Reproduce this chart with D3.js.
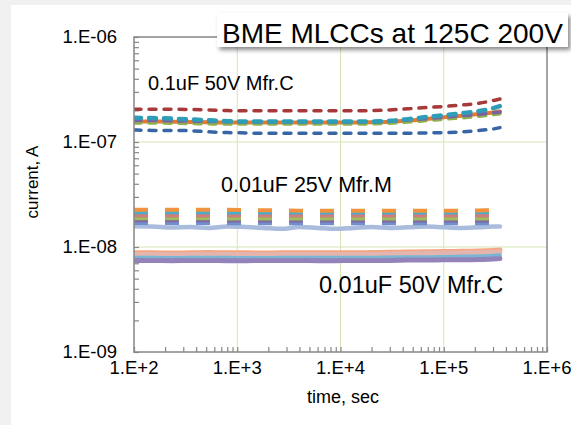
<!DOCTYPE html>
<html>
<head>
<meta charset="utf-8">
<script src="https://cdn.jsdelivr.net/npm/d3@7"></script>
<style>
  body { margin: 0; background: #f0f0f0; }
  svg { display: block; font-family: "Liberation Sans", Arial, sans-serif; }
</style>
</head>
<body>
<svg id="chart" width="571" height="425"></svg>
<script>
// ---- data -------------------------------------------------------------
const times = [100, 150, 230, 350, 530, 800, 1200, 1800, 2700, 4000, 6000, 9000,
               13500, 20000, 30000, 45000, 68000, 100000, 150000, 220000, 300000, 350000];

// 0.1uF 50V Mfr.C  (current, A ×1e-7)
const c01Red    = [2.05,2.05,2.05,2.04,2.02,1.99,1.98,1.98,1.98,1.98,1.98,1.98,1.98,1.99,2.02,2.07,2.13,2.18,2.25,2.34,2.48,2.57];
const c01Teal   = [1.70,1.69,1.67,1.64,1.61,1.58,1.57,1.57,1.57,1.57,1.57,1.57,1.57,1.57,1.59,1.65,1.73,1.80,1.88,1.97,2.10,2.20];
const c01Orange = [1.57,1.57,1.56,1.55,1.54,1.53,1.53,1.53,1.53,1.53,1.53,1.53,1.53,1.54,1.56,1.60,1.66,1.72,1.78,1.85,1.91,1.95];
const c01Green  = [1.52,1.52,1.51,1.50,1.49,1.48,1.48,1.48,1.48,1.48,1.48,1.48,1.48,1.49,1.51,1.55,1.60,1.65,1.70,1.76,1.82,1.86];
const c01Purple = [1.60,1.60,1.59,1.58,1.57,1.56,1.55,1.55,1.55,1.55,1.55,1.55,1.55,1.56,1.58,1.62,1.67,1.72,1.78,1.84,1.90,1.93];
const c01Blue   = [1.30,1.29,1.29,1.28,1.25,1.23,1.22,1.21,1.21,1.21,1.21,1.21,1.21,1.21,1.21,1.21,1.22,1.23,1.25,1.29,1.33,1.37];

// 0.01uF 25V Mfr.M  (current, A ×1e-8)
const m25Light  = [1.58,1.57,1.53,1.55,1.52,1.57,1.55,1.52,1.49,1.55,1.52,1.49,1.52,1.55,1.52,1.54,1.57,1.54,1.52,1.54,1.57,1.57];
const m25Blue   = [1.69,1.69,1.69,1.69,1.69,1.68,1.68,1.68,1.68,1.68,1.68,1.68,1.68,1.68,1.68,1.68,1.68,1.68,1.68,1.68,1.69,1.69];
const m25Purple = [1.80,1.80,1.80,1.80,1.80,1.79,1.79,1.79,1.79,1.79,1.79,1.79,1.79,1.79,1.79,1.79,1.79,1.79,1.79,1.79,1.77,1.76];
const m25Green  = [1.88,1.88,1.88,1.88,1.88,1.87,1.87,1.87,1.87,1.87,1.87,1.87,1.87,1.87,1.87,1.87,1.87,1.87,1.87,1.87,1.86,1.85];
const m25Rose   = [2.00,2.00,2.00,2.00,2.00,1.99,1.99,1.99,1.99,1.99,1.99,1.99,1.99,1.99,1.99,1.99,1.99,1.99,1.99,1.99,1.98,1.97];
const m25Teal   = [2.14,2.14,2.14,2.14,2.14,2.13,2.13,2.13,2.13,2.13,2.13,2.13,2.13,2.13,2.13,2.13,2.13,2.13,2.13,2.14,2.14,2.12];
const m25Orange = [2.26,2.26,2.26,2.26,2.26,2.26,2.25,2.24,2.23,2.22,2.22,2.22,2.22,2.22,2.22,2.22,2.22,2.22,2.22,2.23,2.24,2.24];

// 0.01uF 50V Mfr.C  (current, A ×1e-9)
const c50Orange = [8.80,8.80,8.75,8.80,8.85,8.80,8.80,8.75,8.80,8.80,8.80,8.80,8.80,8.85,8.90,8.95,9.00,9.05,9.10,9.15,9.25,9.35];
const c50Pink   = [8.50,8.50,8.45,8.50,8.55,8.50,8.50,8.45,8.50,8.50,8.50,8.50,8.50,8.55,8.60,8.65,8.70,8.75,8.80,8.85,8.95,9.00];
const c50Teal   = [7.90,7.90,7.85,7.90,7.90,7.90,7.85,7.85,7.90,7.90,7.90,7.90,7.90,7.90,7.95,8.00,8.00,8.05,8.10,8.15,8.25,8.35];
const c50Purple = [7.45,7.45,7.40,7.45,7.45,7.40,7.40,7.45,7.45,7.45,7.40,7.40,7.45,7.45,7.45,7.50,7.50,7.55,7.55,7.60,7.70,7.75];

const xTickValues = [1e2, 1e3, 1e4, 1e5, 1e6];
const xTickLabels = ["1.E+2", "1.E+3", "1.E+4", "1.E+5", "1.E+6"];
const yTickValues = [1e-9, 1e-8, 1e-7, 1e-6];
const yTickLabels = ["1.E-09", "1.E-08", "1.E-07", "1.E-06"];

const titleText = "BME MLCCs at 125C 200V";
const groupLabels = ["0.1uF 50V Mfr.C", "0.01uF 25V Mfr.M", "0.01uF 50V Mfr.C"];

// ---- series styling (draw order) ---------------------------------------
const dashTop = "7 8", dashMid = "14 17";
const series = [
  { v: c01Orange, k: 1e-7, color: "#e07b32", w: 4,   dash: null,    cap: "round" },
  { v: c01Green,  k: 1e-7, color: "#8fb04b", w: 3.5, dash: dashTop, cap: "round" },
  { v: c01Purple, k: 1e-7, color: "#7b5fa5", w: 3.5, dash: dashTop, cap: "round" },
  { v: c01Teal,   k: 1e-7, color: "#2f9cb8", w: 4.5, dash: dashTop, cap: "round" },
  { v: c01Blue,   k: 1e-7, color: "#3765a6", w: 3.5, dash: dashTop, cap: "round" },
  { v: c01Red,    k: 1e-7, color: "#a53a38", w: 3.5, dash: dashTop, cap: "round" },

  { v: m25Light,  k: 1e-8, color: "#aabcdd", w: 4.5, dash: null,    cap: "round" },
  { v: m25Blue,   k: 1e-8, color: "#7190cb", w: 4,   dash: dashMid, cap: "butt" },
  { v: m25Purple, k: 1e-8, color: "#8266a6", w: 4,   dash: dashMid, cap: "butt" },
  { v: m25Green,  k: 1e-8, color: "#9cbd5b", w: 4,   dash: dashMid, cap: "butt" },
  { v: m25Rose,   k: 1e-8, color: "#d07d7c", w: 4,   dash: dashMid, cap: "butt" },
  { v: m25Teal,   k: 1e-8, color: "#4aaecb", w: 4,   dash: dashMid, cap: "butt" },
  { v: m25Orange, k: 1e-8, color: "#f0923e", w: 4,   dash: dashMid, cap: "butt" },

  { v: c50Orange, k: 1e-9, color: "#f4a57e", w: 5, dash: null, cap: "round" },
  { v: c50Pink,   k: 1e-9, color: "#e3b5ae", w: 5, dash: null, cap: "round" },
  { v: c50Teal,   k: 1e-9, color: "#7ab6d2", w: 4, dash: null, cap: "round" },
  { v: c50Purple, k: 1e-9, color: "#9483bb", w: 5, dash: null, cap: "round" }
];

// ---- layout -------------------------------------------------------------
const svg = d3.select("#chart");
const W = 571, H = 425;
const plot = { left: 134, right: 547, top: 37, bottom: 352 };

const x = d3.scaleLog().domain([1e2, 1e6]).range([plot.left, plot.right]);
const y = d3.scaleLog().domain([1e-9, 1e-6]).range([plot.bottom, plot.top]);

// chart area
svg.append("rect").attr("width", W).attr("height", H).attr("fill", "#f0f0f0");
svg.append("rect").attr("x", 11).attr("y", 5).attr("width", W - 11).attr("height", H - 5).attr("fill", "#ffffff");

// gridlines
const grid = svg.append("g").attr("stroke", "#d5e4b8").attr("stroke-width", 1);
[1e3, 1e4, 1e5].forEach(t => grid.append("line")
  .attr("x1", x(t)).attr("x2", x(t)).attr("y1", plot.top).attr("y2", plot.bottom));
[1e-8, 1e-7].forEach(v => grid.append("line")
  .attr("x1", plot.left).attr("x2", plot.right).attr("y1", y(v)).attr("y2", y(v)));

// minor/major ticks inside the frame
const decadesX = [1e2, 1e3, 1e4, 1e5];
const decadesY = [1e-9, 1e-8, 1e-7];
const mult = [1, 2, 3, 4, 5, 6, 7, 8, 9];
const xTicks = decadesX.flatMap(d => mult.map(m => d * m)).concat([1e6]);
const yTicks = decadesY.flatMap(d => mult.map(m => d * m)).concat([1e-6]);

const frameColor = "#878787";
svg.append("g")
  .attr("transform", `translate(0,${plot.bottom})`)
  .call(d3.axisBottom(x).tickValues(xTicks).tickSize(-5).tickFormat(""))
  .call(g => g.select(".domain").remove())
  .selectAll("line").attr("stroke", frameColor).attr("stroke-width", 1.2);
svg.append("g")
  .attr("transform", `translate(${plot.left},0)`)
  .call(d3.axisLeft(y).tickValues(yTicks).tickSize(-5).tickFormat(""))
  .call(g => g.select(".domain").remove())
  .selectAll("line").attr("stroke", frameColor).attr("stroke-width", 1.2);

// series lines
const clip = svg.append("clipPath").attr("id", "plotclip").append("rect")
  .attr("x", plot.left).attr("y", plot.top)
  .attr("width", plot.right - plot.left).attr("height", plot.bottom - plot.top);

const lines = svg.append("g").attr("clip-path", "url(#plotclip)");
series.forEach(s => {
  const line = d3.line()
    .x((d, i) => x(times[i]))
    .y(d => y(d * s.k))
    .curve(d3.curveMonotoneX);
  lines.append("path")
    .attr("d", line(s.v))
    .attr("fill", "none")
    .attr("stroke", s.color)
    .attr("stroke-width", s.w)
    .attr("stroke-linecap", s.cap)
    .attr("stroke-linejoin", "round")
    .attr("stroke-dasharray", s.dash);
});

// frame
svg.append("rect")
  .attr("x", plot.left).attr("y", plot.top)
  .attr("width", plot.right - plot.left).attr("height", plot.bottom - plot.top)
  .attr("fill", "none").attr("stroke", frameColor).attr("stroke-width", 1.5);

// tick labels
svg.append("g").selectAll("text").data(xTickValues).join("text")
  .attr("x", d => x(d)).attr("y", 374)
  .attr("text-anchor", "middle").attr("font-size", 18.5).attr("fill", "#000")
  .text((d, i) => xTickLabels[i]);
svg.append("g").selectAll("text").data(yTickValues).join("text")
  .attr("x", 117).attr("y", d => y(d) + 6.4)
  .attr("text-anchor", "end").attr("font-size", 18.5).attr("fill", "#000")
  .text((d, i) => yTickLabels[i]);

// axis titles
svg.append("text").attr("x", 343).attr("y", 403)
  .attr("text-anchor", "middle").attr("font-size", 18).text("time, sec");
svg.append("text").attr("transform", "translate(38,182) rotate(-90)")
  .attr("text-anchor", "middle").attr("font-size", 17).text("current, A");

// group labels
svg.append("text").attr("x", 148).attr("y", 90).attr("font-size", 20).text(groupLabels[0]);
svg.append("text").attr("x", 221).attr("y", 192).attr("font-size", 21.5).text(groupLabels[1]);
svg.append("text").attr("x", 319).attr("y", 293).attr("font-size", 23.5).text(groupLabels[2]);

// title box with drop shadow
const defs = svg.append("defs");
const f = defs.append("filter").attr("id", "shadow")
  .attr("x", "-10%").attr("y", "-30%").attr("width", "130%").attr("height", "180%");
f.append("feDropShadow").attr("dx", 2.5).attr("dy", 3).attr("stdDeviation", 2)
  .attr("flood-color", "#000").attr("flood-opacity", 0.45);
svg.append("rect").attr("x", 217).attr("y", 13).attr("width", 351).attr("height", 34)
  .attr("fill", "#fff").attr("filter", "url(#shadow)");
svg.append("text").attr("x", 222).attr("y", 42.5).attr("font-size", 28)
  .attr("fill", "#000").text(titleText);
</script>
</body>
</html>
